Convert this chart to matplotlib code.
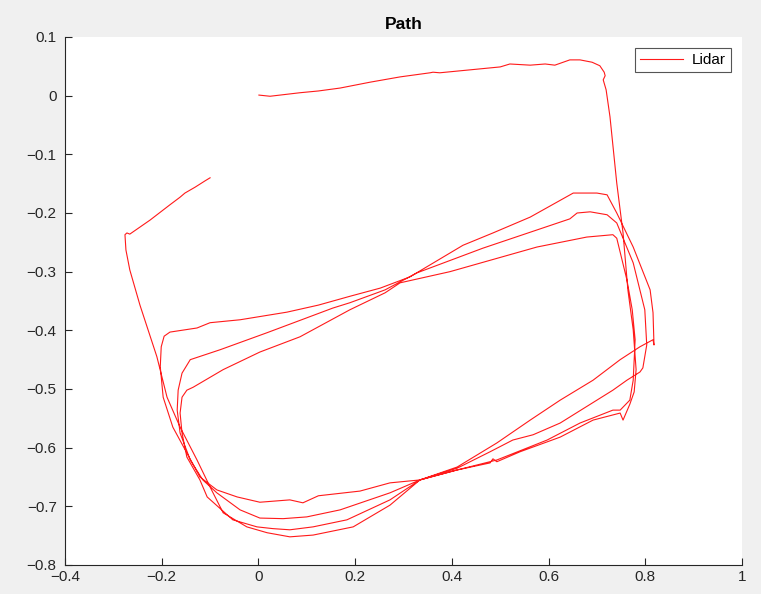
import matplotlib
matplotlib.use("Agg")
import matplotlib.pyplot as plt
import numpy as np

# lidar path (x, y in metres)
path_x = [0.001, 0.024, 0.086, 0.124, 0.169, 0.231, 0.293, 0.355, 0.361, 0.375,
          0.438, 0.500, 0.520, 0.562, 0.593, 0.613, 0.644, 0.665, 0.690, 0.706,
          0.715, 0.717, 0.713,
          0.719, 0.727, 0.741, 0.754, 0.764, 0.775, 0.781, 0.777, 0.768, 0.754, 0.748,
          0.692, 0.624, 0.541, 0.493, 0.485, 0.479, 0.411, 0.334, 0.272, 0.210,
          0.124, 0.092, 0.065, 0.003, -0.044, -0.086, -0.121, -0.148, -0.177, -0.197,
          -0.203, -0.201, -0.195, -0.183, -0.127, -0.100, -0.038, 0.059, 0.124, 0.189,
          0.252, 0.313, 0.423, 0.485, 0.562, 0.651, 0.700, 0.721, 0.741, 0.775,
          0.810, 0.816, 0.818, 0.816,
          0.789, 0.748, 0.692, 0.624, 0.562, 0.493, 0.411, 0.334, 0.272, 0.169,
          0.100, 0.051, 0.003, -0.038, -0.086, -0.115, -0.141, -0.162, -0.168, -0.166,
          -0.158, -0.141, -0.079, 0.018, 0.154, 0.189,
          0.262, 0.328, 0.464, 0.644, 0.659, 0.686, 0.721, 0.741, 0.775, 0.799,
          0.803, 0.795, 0.789,
          0.762, 0.733, 0.624, 0.568, 0.526, 0.479, 0.411, 0.334, 0.272, 0.183,
          0.113, 0.065, 0.030, -0.003, -0.053, -0.106,
          -0.121, -0.148, -0.158, -0.162, -0.158, -0.148, -0.135, -0.073, 0.003, 0.086,
          0.189,
          0.262, 0.293, 0.396, 0.576, 0.679, 0.733, 0.741, 0.762, 0.773, 0.779,
          0.775, 0.768,
          0.748, 0.733, 0.665, 0.597, 0.493, 0.411, 0.334, 0.272, 0.196, 0.113,
          0.065, 0.018, -0.024, -0.073,
          -0.100, -0.127, -0.162, -0.189, -0.210, -0.245, -0.266, -0.274, -0.276, -0.272,
          -0.266, -0.224, -0.183, -0.162, -0.152, -0.131, -0.110, -0.100]
path_y = [0.001, -0.001, 0.005, 0.008, 0.013, 0.023, 0.032, 0.039, 0.040, 0.039,
          0.044, 0.049, 0.054, 0.052, 0.054, 0.052, 0.061, 0.061, 0.057, 0.051,
          0.040, 0.034, 0.027,
          0.010, -0.036, -0.149, -0.234, -0.331, -0.399, -0.467, -0.505, -0.526, -0.553, -0.541,
          -0.553, -0.582, -0.607, -0.624, -0.619, -0.626, -0.638, -0.655, -0.660, -0.674,
          -0.682, -0.694, -0.689, -0.693, -0.684, -0.672, -0.650, -0.609, -0.565, -0.514,
          -0.462, -0.428, -0.410, -0.403, -0.396, -0.387, -0.382, -0.369, -0.357, -0.342,
          -0.328, -0.309, -0.255, -0.234, -0.207, -0.166, -0.166, -0.169, -0.200, -0.258,
          -0.331, -0.370, -0.425, -0.416,
          -0.428, -0.450, -0.485, -0.519, -0.553, -0.592, -0.633, -0.655, -0.677, -0.706,
          -0.718, -0.721, -0.720, -0.706, -0.677, -0.655, -0.621, -0.575, -0.536, -0.502,
          -0.473, -0.450, -0.433, -0.404, -0.362, -0.353,
          -0.331, -0.302, -0.260, -0.210, -0.200, -0.198, -0.203, -0.217, -0.285, -0.365,
          -0.425, -0.464, -0.471,
          -0.485, -0.502, -0.558, -0.578, -0.587, -0.607, -0.635, -0.655, -0.689, -0.723,
          -0.735, -0.740, -0.738, -0.735, -0.723, -0.684,
          -0.655, -0.616, -0.575, -0.541, -0.514, -0.502, -0.497, -0.467, -0.437, -0.411,
          -0.365,
          -0.336, -0.319, -0.300, -0.258, -0.241, -0.237, -0.243, -0.314, -0.365, -0.416,
          -0.485, -0.519,
          -0.536, -0.536, -0.558, -0.587, -0.621, -0.638, -0.655, -0.698, -0.735, -0.749,
          -0.752, -0.745, -0.735, -0.711,
          -0.667, -0.621, -0.565, -0.514, -0.445, -0.357, -0.297, -0.263, -0.237, -0.234,
          -0.236, -0.212, -0.186, -0.173, -0.166, -0.156, -0.145, -0.140]

xticks = [-0.4, -0.2, 0, 0.2, 0.4, 0.6, 0.8, 1]
yticks = [0.1, 0, -0.1, -0.2, -0.3, -0.4, -0.5, -0.6, -0.7, -0.8]

plt.rcParams['font.family'] = ['Liberation Sans', 'DejaVu Sans']


def fmt(v):
    return ('%g' % v).replace('-', '\u2212')


fig = plt.figure(figsize=(7.61, 5.94), dpi=100, facecolor='#f0f0f0')
ax = fig.add_axes([65/761, 29/594, 677/761, 528/594])
ax.set_facecolor('white')

ax.plot(path_x, path_y, color='#ff1a1a', lw=0.8, label='Lidar')

ax.set_xlim(-0.4, 1)
ax.set_ylim(-0.8, 0.1)
ax.set_xticks(xticks)
ax.set_xticklabels([fmt(v) for v in xticks])
ax.set_yticks(yticks)
ax.set_yticklabels([fmt(v) for v in yticks])
ax.tick_params(direction='in', length=5, width=0.8, colors='#262626', labelsize=11)
ax.tick_params(axis='y', pad=6)
for s in ['top', 'right']:
    ax.spines[s].set_visible(False)
for s in ['left', 'bottom']:
    ax.spines[s].set_color('#262626')
    ax.spines[s].set_linewidth(0.8)

ax.set_title('Path', fontsize=12.5, fontweight='bold', pad=6)
leg = ax.legend(loc='upper right', fancybox=False, edgecolor='#555555',
                framealpha=1, fontsize=11, handlelength=2.8, handletextpad=0.6,
                borderaxespad=0.7, borderpad=0.35)
leg.get_frame().set_linewidth(0.8)

fig.savefig('out.png', dpi=100, facecolor=fig.get_facecolor())
